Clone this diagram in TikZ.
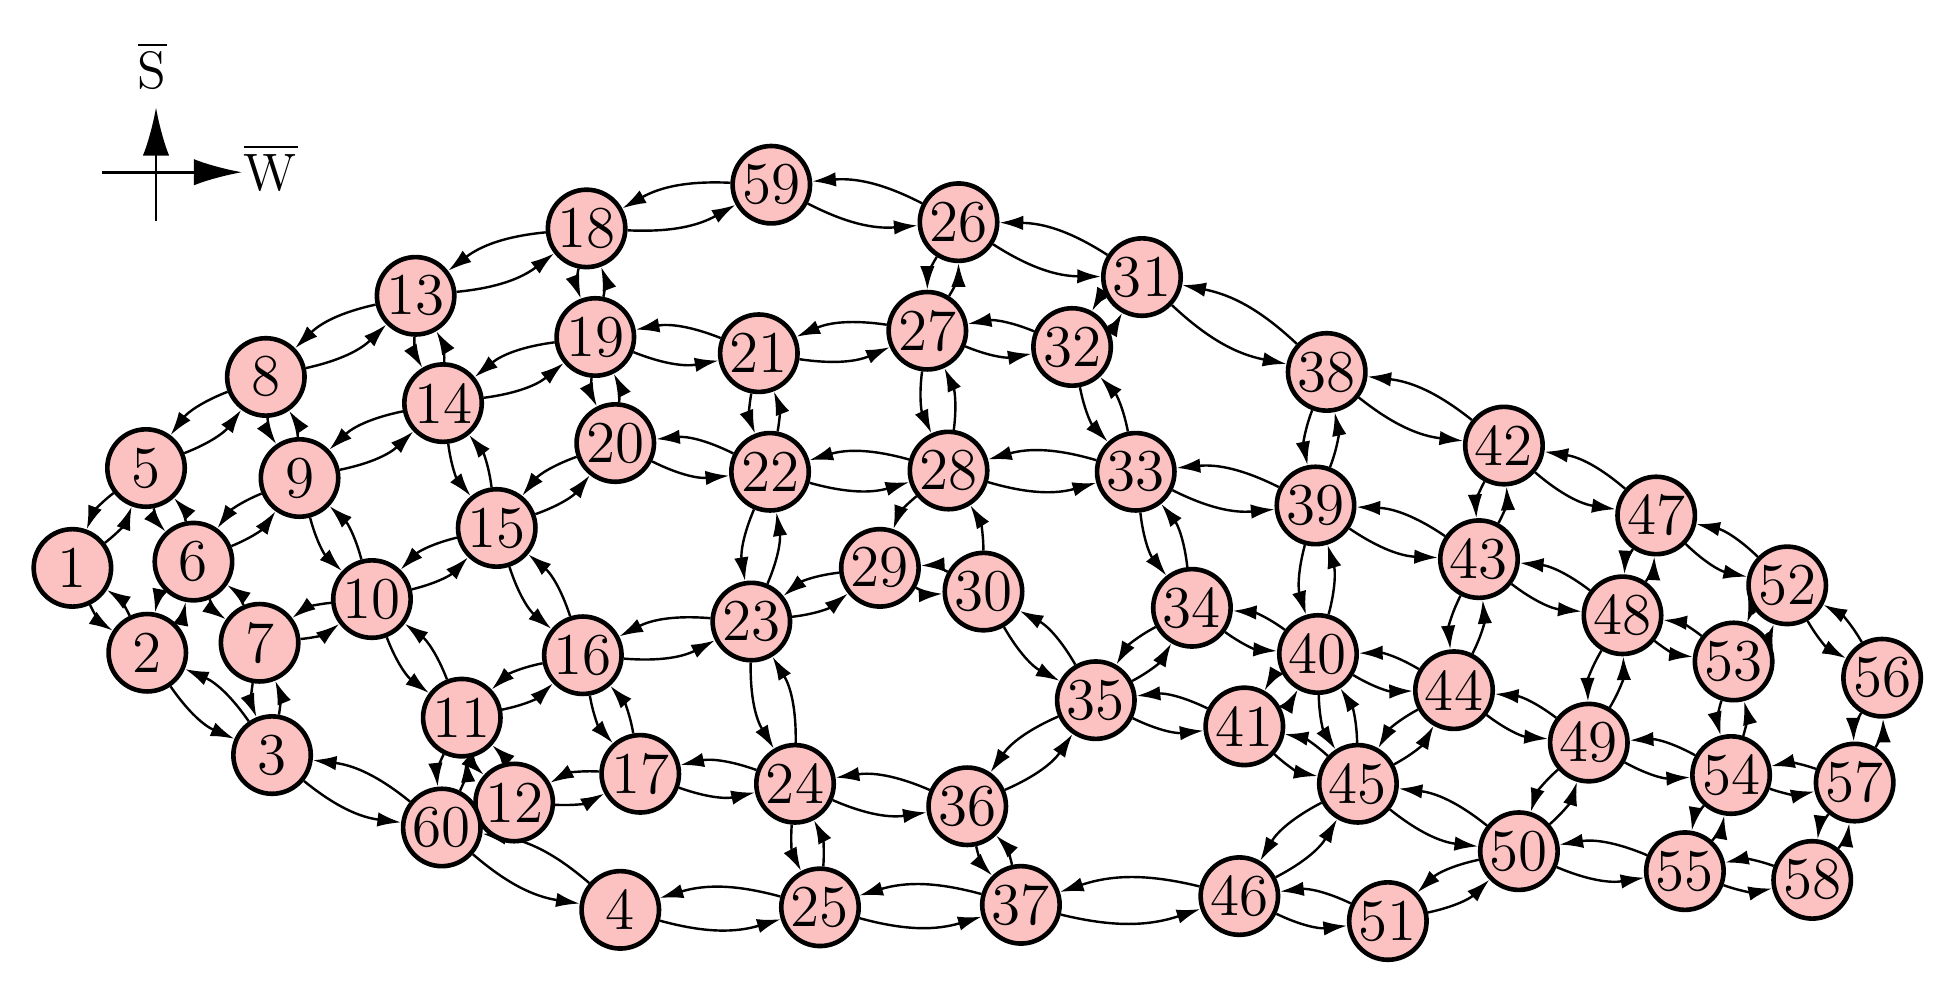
\documentclass[tikz,border=0pt]{standalone}
\usepackage{amsmath,amssymb}
\usepackage{xcolor}
\usetikzlibrary{arrows.meta,backgrounds}
\definecolor{stpink}{RGB}{252,194,194}
\tikzset{>={Latex[length=5.4pt,width=3.3pt]}}
\tikzset{
	stn/.style={draw, circle, line width=1.05pt, fill=stpink, minimum size=0.62cm, inner sep=0pt, font=\fontsize{13.5}{13.5}\selectfont},
	trans/.style={->, line width=0.55pt, bend right=16},
	axis/.style={line width=0.65pt, -{Latex[length=11pt,width=6pt]}}
}

\begin{document}
\begin{tikzpicture}[x=0.01cm,y=-0.01cm]

\useasboundingbox (0,0) rectangle (1560,788);

% Compass
\coordinate (cs) at (125,177);
\coordinate (cn) at (125,86);
\coordinate (cw) at (82,138);
\coordinate (ce) at (194,138);
\draw[axis] (cs) -- (cn);
\draw[axis] (cw) -- (ce);
\node[font=\fontsize{12}{12}\selectfont] (lblS) at (122,52) {$\overline{\mathrm{S}}$};
\node[font=\fontsize{12}{12}\selectfont] (lblW) at (217,134) {$\overline{\mathrm{W}}$};

% Stations
\foreach \i/\x/\y in {1/58/455, 2/118/523, 3/218/605, 4/497/729, 5/117/375,
	6/155/450, 7/208/515, 8/213/302, 9/240/383, 10/298/480,
	11/370/575, 12/412/643, 13/333/237, 14/355/323, 15/398/423,
	16/467/525, 17/513/620, 18/470/183, 19/477/270, 20/493/355,
	21/608/283, 22/617/378, 23/602/498, 24/637/628, 25/657/727,
	26/768/178, 27/743/265, 28/760/377, 29/705/455, 30/788/474,
	31/915/222, 32/859/278, 33/910/378, 34/955/487, 35/878/561,
	36/775/646, 37/818/725, 38/1063/298, 39/1054/405, 40/1056/524,
	41/997/582, 42/1205/357, 43/1185/448, 44/1165/553, 45/1088/628,
	46/993/718, 47/1327/413, 48/1300/493, 49/1273/595, 50/1217/682,
	51/1112/738, 52/1432/469, 53/1389/530, 54/1387/621, 55/1350/698,
	56/1508/543, 57/1486/627, 58/1452/705, 59/618/148, 60/354/663}{
	\node[stn] (n\i) at (\x,\y) {\i};
}

% Links, both ways
\begin{pgfonlayer}{background}
\foreach \a/\b in {1/5, 1/2, 2/6, 2/3, 5/6, 5/8, 6/7, 6/9, 7/3, 7/10,
	8/9, 8/13, 9/10, 9/14, 10/11, 10/15, 11/12, 11/16, 11/60, 12/17,
	3/60, 60/4, 13/14, 13/18, 14/15, 14/19, 15/16, 15/20, 16/17, 16/23,
	17/24, 18/19, 18/59, 19/20, 19/21, 20/22, 21/22, 21/27, 22/23, 22/28,
	23/24, 23/29, 24/25, 24/36, 25/4, 25/37, 59/26, 26/27, 26/31, 27/28,
	27/32, 28/33, 29/30, 31/32, 31/38, 32/33, 33/34, 33/39, 34/35, 34/40,
	35/30, 35/36, 35/41, 36/37, 37/46, 38/39, 38/42, 39/40, 39/43, 40/41,
	40/44, 40/45, 41/45, 42/43, 42/47, 43/44, 43/48, 44/45, 44/49, 45/46,
	45/50, 46/51, 47/48, 47/52, 48/49, 48/53, 49/50, 49/54, 50/51, 50/55,
	52/53, 52/56, 53/54, 54/55, 54/57, 55/58, 56/57, 57/58}{
	\draw[trans] (n\a) to (n\b);
	\draw[trans] (n\b) to (n\a);
}
% one way only
\draw[trans] (n28) to (n29);
\draw[trans] (n30) to (n28);
\end{pgfonlayer}

\end{tikzpicture}
\end{document}
